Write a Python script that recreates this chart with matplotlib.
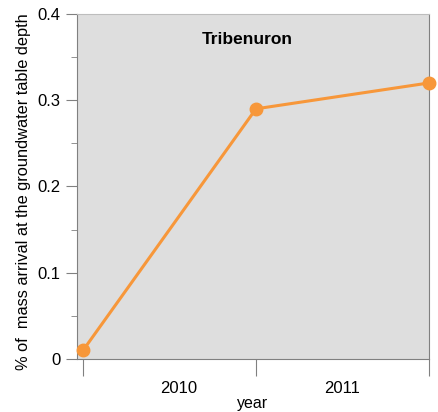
import matplotlib
matplotlib.use('Agg')
import matplotlib.pyplot as plt

# data
positions = [0, 1, 2]
mass_arrival = [0.01, 0.29, 0.32]
year_labels = ['2010', '2011']
year_label_pos = [0.55, 1.5]

plt.rcParams['font.family'] = ['Liberation Sans', 'DejaVu Sans']

fig = plt.figure(figsize=(4.38, 4.12), dpi=100)
ax = fig.add_axes([0.176, 0.129, 0.803, 0.837])
ax.set_facecolor('#dedede')

ax.plot(positions, mass_arrival, color='#f7973a', linewidth=2.2,
        marker='o', markersize=9, clip_on=False, zorder=3)

ax.set_xlim(-0.035, 2)
ax.set_ylim(0, 0.4)

ax.set_yticks([0, 0.1, 0.2, 0.3, 0.4])
ax.set_yticklabels(['0', '0.1', '0.2', '0.3', '0.4'])
ax.set_yticks([0.05, 0.15, 0.25, 0.35], minor=True)
ax.tick_params(axis='y', which='major', length=8, color='#808080', labelsize=12, pad=4)
ax.tick_params(axis='y', which='minor', length=4, color='#808080')

ax.set_xticks(positions)
ax.set_xticklabels(['', '', ''])
ax.set_xticks(year_label_pos, minor=True)
ax.set_xticklabels(year_labels, minor=True)
ax.tick_params(axis='x', which='major', length=12, color='#808080')
ax.tick_params(axis='x', which='minor', length=0, labelsize=12, pad=16)

for side in ['left', 'bottom', 'right']:
    ax.spines[side].set_color('#808080')
ax.spines['top'].set_color('#bdbdbd')

ax.set_xlabel('year', fontsize=11.5, labelpad=0)
ax.set_ylabel('% of  mass arrival at the groundwater table depth', fontsize=11.8, labelpad=5)
ax.yaxis.set_label_coords(-0.13, 0.485)
ax.text(0.485, 0.925, 'Tribenuron', transform=ax.transAxes, ha='center',
        va='center', fontsize=12.5, fontweight='bold')

fig.savefig('out.png', dpi=100)
